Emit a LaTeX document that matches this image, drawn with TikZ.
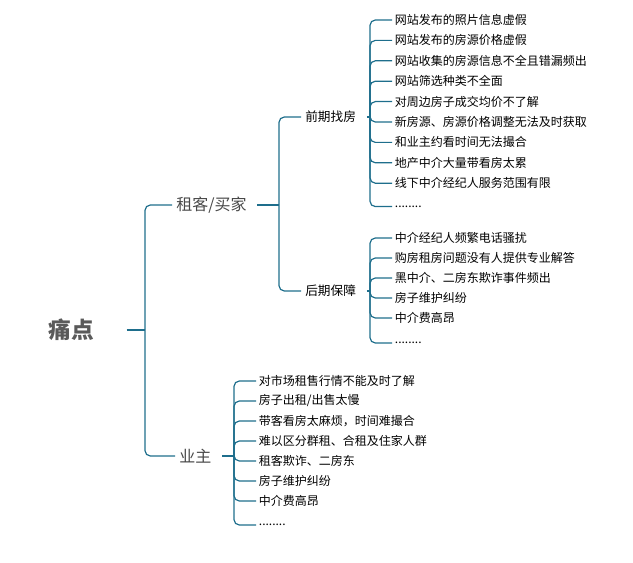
\documentclass[tikz,border=0pt]{standalone}
\usepackage{fontspec}
\setmainfont{Noto Sans CJK SC}
\definecolor{teal}{RGB}{30,110,140}
\definecolor{root}{RGB}{90,90,90}
\newcommand\etcdots{........}
\begin{document}
\begin{tikzpicture}[x=0.75pt,y=-0.75pt,
        link/.style={draw=teal, line width=0.9pt, rounded corners=4pt},
        stub/.style={link, shorten <=5pt},
        top/.style={anchor=west, inner sep=2pt, font=\bfseries\fontsize{17}{19}\selectfont, text=root},
        major/.style={anchor=west, inner sep=3pt, font=\fontsize{12}{14}\selectfont, text=root!80!black},
        minor/.style={anchor=west, inner sep=3pt, font=\fontsize{9.5}{11}\selectfont},
        item/.style={anchor=west, inner sep=2pt, font=\fontsize{9}{11}\selectfont}
        ]
        \useasboundingbox (0,0) rectangle (633,563);
        \node[top] (tong) at (46,330) {痛点};
        \node[major] (zuke) at (172,205) {租客/买家};
        \node[major] (yezhu) at (175,456) {业主};
        \node[minor] (qian) at (301,117) {前期找房};
        \node[minor] (hou) at (301,291) {后期保障};
        \coordinate (j1) at (145,330);
        \coordinate (j2) at (279,205);
        \coordinate (j3) at (370,117);
        \coordinate (j4) at (370,291);
        \coordinate (j5) at (234,456);
        \draw[stub, shorten <=22pt] (tong.east) -- (j1);
        \draw[link] (j1) |- (zuke.west);
        \draw[link] (j1) |- (yezhu.west);
        \draw[stub] (zuke.east) -- (j2);
        \draw[link] (j2) |- (qian.west);
        \draw[link] (j2) |- (hou.west);
        \draw[stub] (qian.east) -- (j3);
        \draw[stub] (hou.east) -- (j4);
        \draw[stub] (yezhu.east) -- (j5);
        % 前期找房
        \foreach \t [count=\i] in {网站发布的照片信息虚假, 网站发布的房源价格虚假,
            网站收集的房源信息不全且错漏频出, 网站筛选种类不全面, 对周边房子成交均价不了解,
            新房源、房源价格调整无法及时获取, 和业主约看时间无法撮合, 地产中介大量带看房太累,
            线下中介经纪人服务范围有限, \etcdots}{
            \node[item] (q\i) at (392,{20+20.4*(\i-1)+(\i==10)*3}) {\t};
            \draw[link] (j3) |- (q\i.west);
        }
        % 后期保障
        \foreach \t [count=\i] in {中介经纪人频繁电话骚扰, 购房租房问题没有人提供专业解答,
            黑中介、二房东欺诈事件频出, 房子维护纠纷, 中介费高昂, \etcdots}{
            \node[item] (h\i) at (392,{238+20*(\i-1)+(\i==6)*5}) {\t};
            \draw[link] (j4) |- (h\i.west);
        }
        % 业主
        \foreach \t [count=\i] in {对市场租售行情不能及时了解, 房子出租/出售太慢,
            带客看房太麻烦，时间难撮合, 难以区分群租、合租及住家人群, 租客欺诈、二房东,
            房子维护纠纷, 中介费高昂, \etcdots}{
            \node[item] (y\i) at (256,{381+20*(\i-1)+(\i==8)*4}) {\t};
            \draw[link] (j5) |- (y\i.west);
        }
\end{tikzpicture}
\end{document}
